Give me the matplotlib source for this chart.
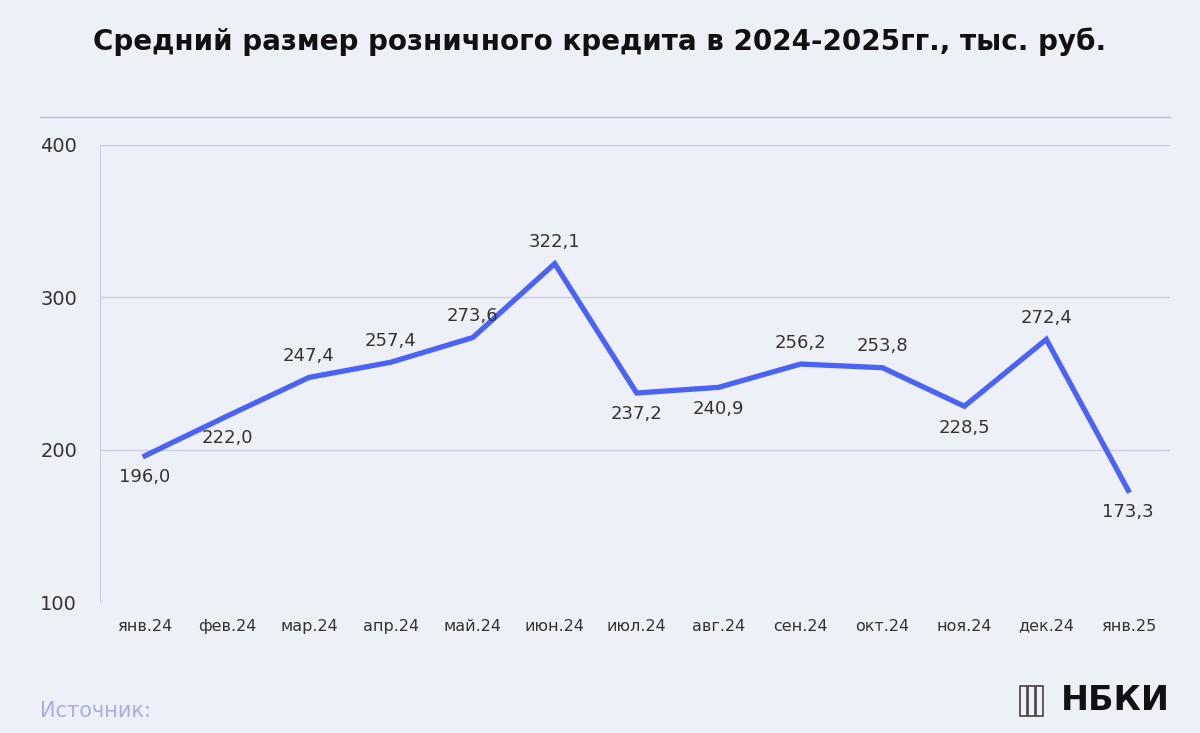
import matplotlib
matplotlib.use("Agg")
import matplotlib.pyplot as plt
from matplotlib.patches import Rectangle

months = ["янв.24","фев.24","мар.24","апр.24","май.24","июн.24","июл.24","авг.24","сен.24","окт.24","ноя.24","дек.24","янв.25"]
values = [196.0,222.0,247.4,257.4,273.6,322.1,237.2,240.9,256.2,253.8,228.5,272.4,173.3]
below = [True,True,False,False,False,False,True,True,False,False,True,False,True]
yticks = [100,200,300,400]

bg = "#eef0f8"
fig = plt.figure(figsize=(12,7.33), dpi=100, facecolor=bg)
ax = fig.add_axes([100/1200, 1-602/733, 1070/1200, 457/733])
ax.set_facecolor(bg)
x = list(range(len(months)))
ax.plot(x, values, color="#4a63f5", lw=3.8, solid_joinstyle="miter", zorder=3)
for i,(v,b) in enumerate(zip(values,below)):
    lab = f"{v:.1f}".replace(".", ",")
    ax.annotate(lab, (i,v), xytext=(0,-9 if b else 9), textcoords="offset points",
                ha="center", va="top" if b else "bottom", fontsize=13, color="#333333")
ax.set_xlim(-0.55, 12.51)
ax.set_ylim(100,400)
ax.set_yticks(yticks)
ax.set_yticklabels([str(t) for t in yticks], fontsize=14, color="#333333")
ax.set_xticks(x)
ax.set_xticklabels(months, fontsize=11.5, color="#333333")
ax.tick_params(length=0)
ax.tick_params(axis="x", pad=12)
for yv in [200,300,400]:
    ax.axhline(yv, color="#c8cce6", lw=1, zorder=1)
for s in ["top","right","bottom"]:
    ax.spines[s].set_visible(False)
ax.spines["left"].set_color("#c8cce6")
for lbl in ax.get_yticklabels():
    lbl.set_horizontalalignment("left")
ax.tick_params(axis="y", pad=43)

fig.text(0.5, 1-42/733, "Средний размер розничного кредита в 2024-2025гг., тыс. руб.",
         ha="center", va="center", fontsize=20, fontweight="bold", color="#111111")
fig.add_artist(plt.Line2D([40/1200, 1170/1200], [1-117/733]*2, color="#b8bce0", lw=1))
fig.text(40/1200, 1-711/733, "Источник:", fontsize=15, color="#a9aee0", va="center")
fig.text(1170/1200, 1-701/733, "НБКИ", fontsize=24, fontweight="bold", color="#111111", ha="right", va="center")
for k in range(3):
    fig.add_artist(Rectangle(((1020+k*8)/1200, 1-716/733), 7/1200, 30/733, fill=False, ec="#444444", lw=1.2))
fig.savefig("out.png", dpi=100, facecolor=bg)
